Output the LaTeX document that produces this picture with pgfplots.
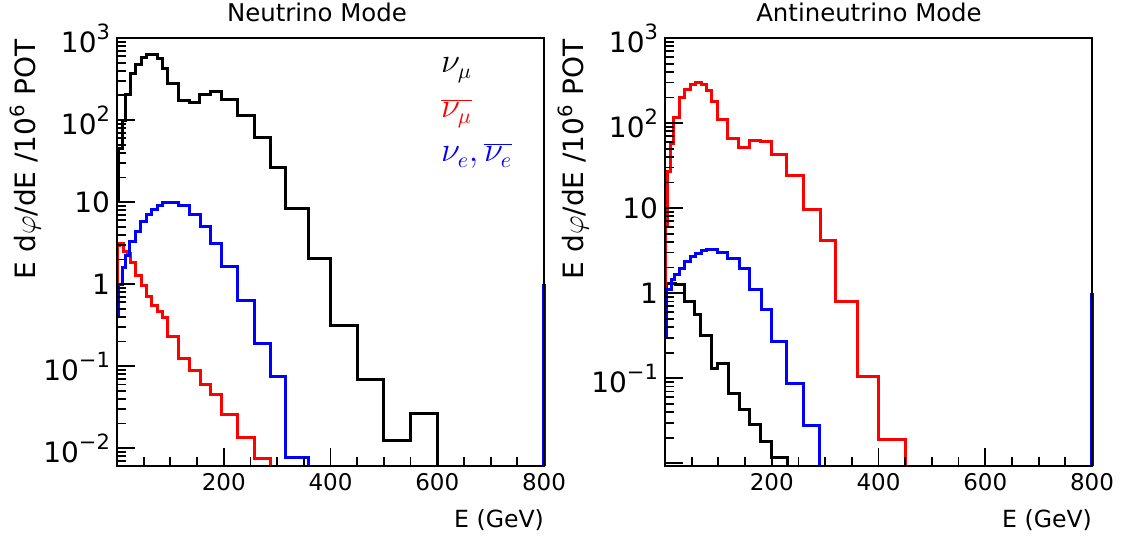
\documentclass[border=0pt]{standalone}
\usepackage{pgfplots}
\pgfplotsset{compat=1.18}
\usepackage{fontspec}
\setmainfont{DejaVu Sans}
\newcommand{\tp}[1]{10\raisebox{0.85ex}{\fontsize{10.5}{10.5}\selectfont #1}}
\pgfplotsset{
 hist/.style={const plot mark left, line width=1.5pt, no marks},
 rootstyle/.style={
  scale only axis, width=213.5pt, height=214pt,
  xmin=0, xmax=800,
  axis line style={line width=0.75pt},
  tick align=inside, xtick pos=bottom, ytick pos=left,
  major tick length=9pt, minor tick length=4.5pt,
  tick style={draw=black, line width=0.9pt},
  xtick={200,400,600,800},
  minor xtick={50,100,150,250,300,350,450,500,550,650,700,750},
  xticklabel style={font=\fontsize{11.5}{12}\selectfont},
  yticklabel style={font=\fontsize{14}{14}\selectfont},
  axis on top,
  clip=false,
  anchor=south west,
  /pgf/number format/assume math mode=true
 }
}
\begin{document}
\begin{tikzpicture}[x=1pt,y=1pt]
\path[use as bounding box] (0pt,0pt) rectangle (561.5pt,270pt);

% ---------------- Left: Neutrino mode ----------------
\begin{semilogyaxis}[rootstyle, at={(58.5pt,37pt)},
  ymin=0.00608, ymax=1000,
  ytick={0.01,0.1,1,10,100,1000},
  yticklabels={\tp{−2},\tp{−1},1,10,\tp{2},\tp{3}},
  minor ytick={0.007,0.008,0.009,0.02,0.03,0.04,0.05,0.06,0.07,0.08,0.09,0.2,0.3,0.4,0.5,0.6,0.7,0.8,0.9,2,3,4,5,6,7,8,9,20,30,40,50,60,70,80,90,200,300,400,500,600,700,800,900}]
% nu_mu (black)
\addplot[hist, black] coordinates {
(0,10.6) (2.5,45) (10,100) (15,202) (25,370) (35,482) (45,581) (55,638)
(75,565) (85,427) (95,281) (115,171) (135,163) (155,206) (175,221)
(196,180) (226,115) (257,61.5) (287,26.5) (316,8.4) (358,2.06) (400,0.31)
(450,0.069) (500,0.0123) (550,0.0265) (600,0.00608)};
% anti nu_mu (red)
\addplot[hist, red] coordinates {
(0,1.0) (1,3.0) (5,3.13) (13,2.48) (19,2.37) (24.5,1.82) (35,1.29) (45,0.97)
(55,0.70) (65,0.555) (75,0.47) (85,0.39) (95,0.232) (116,0.124) (136,0.089)
(156,0.060) (176,0.0457) (196,0.026) (226,0.0135) (257,0.0075) (287,0.00608)};
% nu_e + anti nu_e (blue)
\addplot[hist, blue] coordinates {
(0,0.41) (2.5,1.0) (10,1.6) (15,2.26) (24,3.28) (35,4.35) (44.5,5.75)
(55.5,7.14) (65,8.2) (75.5,9.0) (85,9.9) (116,9.2) (136,7.14) (156,5.1)
(176,3.1) (196,1.63) (226,0.64) (257,0.19) (287,0.074) (316,0.0078) (358,0.00608)};
\addplot[blue, line width=1.6pt] coordinates {(800,0.00608) (800,1)};
\end{semilogyaxis}

% ---------------- Right: Antineutrino mode ----------------
\begin{semilogyaxis}[rootstyle, at={(332.5pt,37pt)},
  ymin=0.00929, ymax=1000,
  ytick={0.01,0.1,1,10,100,1000},
  yticklabels={,\tp{−1},1,10,\tp{2},\tp{3}},
  minor ytick={0.02,0.03,0.04,0.05,0.06,0.07,0.08,0.09,0.2,0.3,0.4,0.5,0.6,0.7,0.8,0.9,2,3,4,5,6,7,8,9,20,30,40,50,60,70,80,90,200,300,400,500,600,700,800,900}]
% nu_mu (black)
\addplot[hist, black] coordinates {
(0,0.95) (2.5,1.31) (20,1.25) (36,0.80) (56,0.556) (67,0.315) (87.5,0.131)
(98,0.147) (118.5,0.0667) (139,0.043) (159,0.0283) (178,0.0179) (200,0.0118)
(230,0.00929)};
% anti nu_mu (red)
\addplot[hist, red] coordinates {
(0,1.0) (0.5,6.0) (5,27) (10,58) (16,115) (27,202) (37,251) (47.5,282)
(57,300) (68,282) (77,242) (88,179) (97.5,110) (117.5,66.7) (138,52)
(158,62.4) (179,60.8) (199,42.2) (228,24) (260,9.55) (291,4.16) (320,0.80)
(361,0.106) (400,0.0188) (450,0.00929)};
% nu_e + anti nu_e (blue)
\addplot[hist, blue] coordinates {
(0,0.32) (2.5,1.1) (13,1.44) (18,1.64) (27,1.97) (37,2.36) (47.5,2.69)
(57,2.95) (68,3.15) (77.5,3.3) (98,3.0) (117.5,2.58) (139,1.97) (159,1.11)
(180,0.65) (199,0.27) (228,0.087) (260,0.0275) (289,0.00929)};
\addplot[blue, line width=1.6pt] coordinates {(800,0.00929) (800,1)};
\end{semilogyaxis}

% titles
\node[anchor=base, font=\fontsize{12.2}{13}\selectfont] at (158.5pt,259pt) {Neutrino Mode};
\node[anchor=base, font=\fontsize{12.2}{13}\selectfont] at (434.5pt,259pt) {Antineutrino Mode};
% x labels
\node[anchor=base east, font=\fontsize{11.8}{12}\selectfont] at (275.5pt,6pt) {E (GeV)};
\node[anchor=base east, font=\fontsize{11.8}{12}\selectfont] at (549.5pt,6pt) {E (GeV)};
% y labels
\node[rotate=90, anchor=base east, font=\fontsize{14}{14}\selectfont] at (17.5pt,254pt) {E d$\varphi$/dE /10\textsuperscript{6} POT};
\node[rotate=90, anchor=base east, font=\fontsize{14}{14}\selectfont] at (291.5pt,254pt) {E d$\varphi$/dE /10\textsuperscript{6} POT};
% legend texts
\node[anchor=base west, font=\fontsize{16}{16}\selectfont, text=black] at (217pt,233.5pt) {$\nu_\mu$};
\node[anchor=base west, font=\fontsize{16}{16}\selectfont, text=red] at (217pt,211pt) {$\overline{\nu_\mu}$};
\node[anchor=base west, font=\fontsize{16}{16}\selectfont, text=blue] at (217pt,189pt) {$\nu_e,\overline{\nu_e}$};
\end{tikzpicture}
\end{document}
